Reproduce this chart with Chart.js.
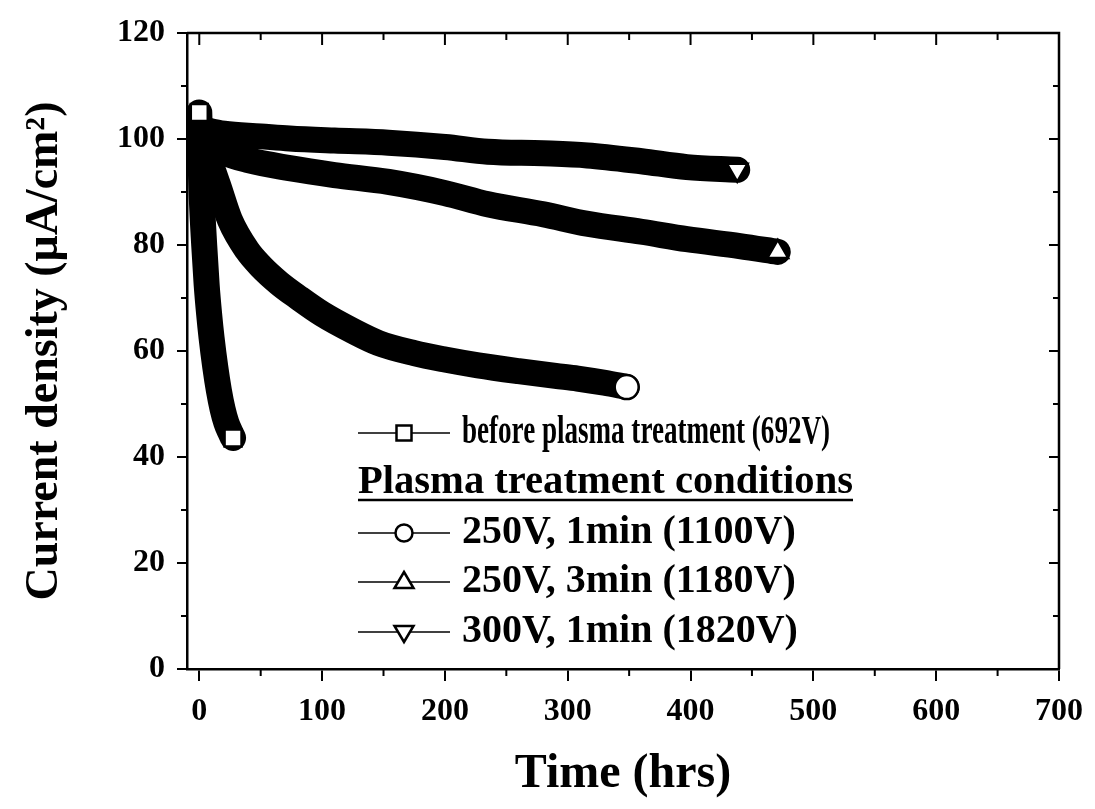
<!DOCTYPE html>
<html>
<head>
<meta charset="utf-8">
<script src="https://cdn.jsdelivr.net/npm/chart.js@4/dist/chart.umd.min.js"></script>
<style>
  body { margin: 0; background: #fff; }
</style>
</head>
<body>
<canvas id="canvas" width="1095" height="809"></canvas>
<script>
// values (hours, uA/cm2)
var timeBefore = [0, 1, 2, 4, 6, 8, 10, 13, 16, 19, 22, 25, 27.5];
var currBefore = [105, 96, 89, 80, 72.5, 67, 62.5, 57, 52.5, 49, 46.5, 44.8, 43.6];

var time250v1 = [0, 3, 8, 15, 25, 39, 50, 65, 80, 100, 125, 146, 175, 200, 227, 260, 290, 308, 330, 348];
var curr250v1 = [100, 98.5, 96, 91.5, 84.7, 79, 76, 72.8, 70.2, 67, 63.8, 61.5, 59.6, 58.4, 57.3, 56.2, 55.3, 54.8, 54, 53.2];

var time250v3 = [0, 20, 40, 73.5, 110, 154, 200, 235, 280, 316, 360, 397, 440, 471];
var curr250v3 = [100.5, 97.5, 96, 94.5, 93.2, 91.9, 89.8, 87.7, 85.8, 84, 82.5, 81.1, 79.8, 78.7];

var time300v1 = [0, 20, 50, 73.5, 110, 154, 200, 235, 280, 316, 360, 397, 438];
var curr300v1 = [102, 101, 100.5, 100.1, 99.7, 99.3, 98.5, 97.6, 97.3, 96.9, 95.8, 94.7, 94.2];

var xTickValues = [0, 100, 200, 300, 400, 500, 600, 700];
var yTickValues = [0, 20, 40, 60, 80, 100, 120];

var seriesNames = [
    'before plasma treatment (692V)',
    '250V, 1min (1100V)',
    '250V, 3min (1180V)',
    '300V, 1min (1820V)'
];
var legendHeader = 'Plasma treatment conditions';

var serif = '"Liberation Serif", "DejaVu Serif", serif';

function toPoints(xs, ys) {
    var pts = [];
    for (var i = 0; i < xs.length; i++) {
        pts.push({x: xs[i], y: ys[i]});
    }
    return pts;
}

// only the end markers show as open symbols, the rest is a thick black band
function endRadius(showFirst) {
    return function(ctx) {
        var n = ctx.dataset.data.length;
        if (ctx.dataIndex === n - 1) return 12;
        if (showFirst && ctx.dataIndex === 0) return 12;
        return 0;
    };
}

function band(label, xs, ys, style, rot, showFirst) {
    return {
        label: label,
        data: toPoints(xs, ys),
        borderColor: '#000',
        backgroundColor: '#fff',
        borderWidth: 26,
        borderCapStyle: 'round',
        borderJoinStyle: 'round',
        cubicInterpolationMode: 'monotone',
        pointStyle: style,
        pointRotation: rot,
        pointRadius: endRadius(showFirst),
        pointHoverRadius: endRadius(showFirst),
        pointBorderWidth: 2.5,
        pointBorderColor: '#000',
        pointBackgroundColor: '#fff',
        fill: false
    };
}

function drawMarker(ctx, style, x, y, r) {
    ctx.beginPath();
    if (style === 'rect') {
        ctx.rect(x - r * 0.75, y - r * 0.75, r * 1.5, r * 1.5);
    } else if (style === 'circle') {
        ctx.arc(x, y, r * 0.85, 0, Math.PI * 2);
    } else if (style === 'triangle') {
        ctx.moveTo(x, y - r);
        ctx.lineTo(x + r * 0.95, y + r * 0.6);
        ctx.lineTo(x - r * 0.95, y + r * 0.6);
        ctx.closePath();
    } else {
        ctx.moveTo(x, y + r);
        ctx.lineTo(x + r * 0.95, y - r * 0.6);
        ctx.lineTo(x - r * 0.95, y - r * 0.6);
        ctx.closePath();
    }
    ctx.fillStyle = '#fff';
    ctx.fill();
    ctx.stroke();
}

// frame, mirrored inward ticks on top/right, minor ticks
var frameTicks = {
    id: 'frameTicks',
    afterDraw: function(chart) {
        var ctx = chart.ctx;
        var a = chart.chartArea;
        var xs = chart.scales.x;
        var ys = chart.scales.y;
        ctx.save();
        ctx.strokeStyle = '#000';
        ctx.lineWidth = 2.5;
        ctx.beginPath();
        ctx.moveTo(a.left, a.top);
        ctx.lineTo(a.right, a.top);
        ctx.lineTo(a.right, a.bottom);
        ctx.stroke();

        ctx.lineWidth = 2;
        ctx.beginPath();
        for (var t = 0; t <= 700; t += 50) {
            var px = xs.getPixelForValue(t);
            var major = t % 100 === 0;
            var len = major ? 12 : 7;
            ctx.moveTo(px, a.top);
            ctx.lineTo(px, a.top + len);
            if (!major) {
                ctx.moveTo(px, a.bottom);
                ctx.lineTo(px, a.bottom + len);
            }
        }
        for (var v = 0; v <= 120; v += 10) {
            var py = ys.getPixelForValue(v);
            var majorY = v % 20 === 0;
            var lenY = majorY ? 10 : 6;
            ctx.moveTo(a.right, py);
            ctx.lineTo(a.right - lenY, py);
            if (!majorY) {
                ctx.moveTo(a.left, py);
                ctx.lineTo(a.left - lenY, py);
            }
        }
        ctx.stroke();
        ctx.restore();
    }
};

var legendBox = {
    id: 'legendBox',
    afterDraw: function(chart) {
        var ctx = chart.ctx;
        var styles = ['rect', 'circle', 'triangle', 'invtriangle'];
        var rows = [433, 533, 582, 632];
        var widths = [368, 341, 345, 345];
        ctx.save();
        ctx.fillStyle = '#000';
        ctx.strokeStyle = '#000';
        ctx.textBaseline = 'middle';
        ctx.textAlign = 'left';

        ctx.font = 'bold 41px ' + serif;
        ctx.fillText(legendHeader, 358, 482, 495);
        ctx.lineWidth = 2.5;
        ctx.beginPath();
        ctx.moveTo(358, 500);
        ctx.lineTo(853, 500);
        ctx.stroke();

        ctx.font = 'bold 40px ' + serif;
        for (var i = 0; i < seriesNames.length; i++) {
            var y = rows[i];
            ctx.lineWidth = 1.5;
            ctx.beginPath();
            ctx.moveTo(358, y);
            ctx.lineTo(450, y);
            ctx.stroke();
            ctx.lineWidth = 2.5;
            drawMarker(ctx, styles[i], 404, y, 10);
            ctx.fillStyle = '#000';
            ctx.fillText(seriesNames[i], 462, y, widths[i]);
        }
        ctx.restore();
    }
};

function fixedTicks(values) {
    return function(scale) {
        scale.ticks = values.map(function(v) { return {value: v}; });
    };
}

var config = {
    type: 'line',
    data: {
        datasets: [
            band(seriesNames[0], timeBefore, currBefore, 'rect', 0, true),
            band(seriesNames[1], time250v1, curr250v1, 'circle', 0, false),
            band(seriesNames[2], time250v3, curr250v3, 'triangle', 0, false),
            band(seriesNames[3], time300v1, curr300v1, 'triangle', 180, false)
        ]
    },
    options: {
        responsive: false,
        animation: false,
        events: [],
        layout: {
            padding: {top: 33, right: 25, left: 0, bottom: 0}
        },
        plugins: {
            legend: {display: false},
            tooltip: {enabled: false}
        },
        scales: {
            x: {
                type: 'linear',
                min: -10,
                max: 700,
                afterBuildTicks: fixedTicks(xTickValues),
                border: {display: true, color: '#000', width: 2.5},
                grid: {
                    drawOnChartArea: false,
                    drawTicks: true,
                    tickLength: 12,
                    color: '#000',
                    lineWidth: 2
                },
                ticks: {
                    padding: 12,
                    color: '#000',
                    maxRotation: 0,
                    autoSkip: false,
                    font: {family: serif, size: 32, weight: 'bold'}
                },
                title: {
                    display: true,
                    text: 'Time (hrs)',
                    color: '#000',
                    padding: {top: 0, bottom: 6},
                    font: {family: serif, size: 48, weight: 'bold'}
                },
                afterFit: function(scale) {
                    scale.height = 140;
                }
            },
            y: {
                min: 0,
                max: 120,
                afterBuildTicks: fixedTicks(yTickValues),
                border: {display: true, color: '#000', width: 2.5},
                grid: {
                    drawOnChartArea: false,
                    drawTicks: true,
                    tickLength: 10,
                    color: '#000',
                    lineWidth: 2
                },
                ticks: {
                    padding: 12,
                    color: '#000',
                    font: {family: serif, size: 32, weight: 'bold'}
                },
                title: {
                    display: true,
                    text: 'Current density (\u03bcA/cm\u00b2)',
                    color: '#000',
                    padding: {top: 18, bottom: 0},
                    font: {family: serif, size: 46, weight: 'bold'}
                },
                afterFit: function(scale) {
                    scale.width = 187;
                }
            }
        }
    },
    plugins: [frameTicks, legendBox]
};

window.onload = function() {
    var ctx = document.getElementById('canvas').getContext('2d');
    window.myLine = new Chart(ctx, config);
};
</script>
</body>
</html>
